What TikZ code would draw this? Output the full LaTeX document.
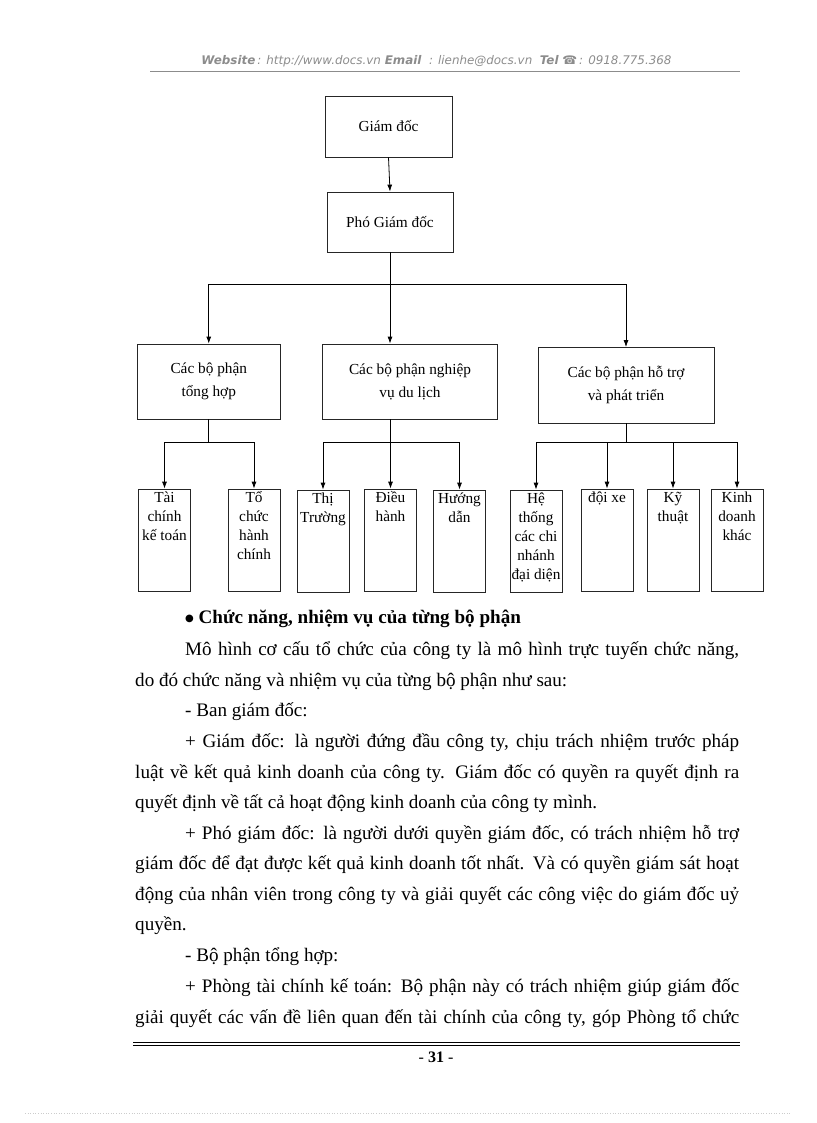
\documentclass[tikz,border=0pt]{standalone}
\usepackage{fontspec}
\setmainfont{Liberation Serif}
\newfontfamily\hdrfont{DejaVu Sans}
\newfontfamily\symfont{DejaVu Sans}
\usetikzlibrary{arrows.meta}
\tikzset{
  box/.style={draw=black!85, line width=0.8pt, inner sep=0pt, align=center,
    font=\fontsize{15.3}{19}\selectfont},
  catbox/.style={box, font=\fontsize{15.3}{23}\selectfont},
  leaf/.style={draw=black!85, line width=0.8pt, inner sep=0pt,
    font=\fontsize{15.3}{19}\selectfont},
  arr/.style={-{Latex[length=7pt,width=5pt]}, line width=0.8pt},
  ln/.style={line width=0.8pt},
  para/.style={anchor=base west, inner sep=0pt, font=\fontsize{19.1}{22}\selectfont},
}
\newcommand{\leaftext}[1]{\parbox[c][102pt][t]{52pt}{\centering\strut #1}}
\begin{document}
\begin{tikzpicture}[x=1pt,y=-1pt]
\useasboundingbox (0,0) rectangle (816,1123);
% header
\node[inner sep=0pt, text=black!45, font=\hdrfont\fontsize{11.9}{13}\selectfont\itshape] (hdr) at (436.5,61)
  {\textbf{Website}\,: http://www.docs.vn \textbf{Email} \ : lienhe@docs.vn \ \textbf{Tel} ☎\,: 0918.775.368};
\draw[black!45, line width=0.6pt] (150,71.5) -- (740,71.5);

% top boxes
\node[box, minimum width=127, minimum height=61] (gd) at (388.5,126.5) {Giám đốc};
\node[box, minimum width=126, minimum height=60] (pgd) at (390,222) {Phó Giám đốc};
% categories
\node[catbox, minimum width=142.5, minimum height=75] (c1) at (208.75,381.5) {Các bộ phận\\tổng hợp};
\node[catbox, minimum width=175, minimum height=75] (c2) at (410,381.5) {Các bộ phận nghiệp\\vụ du lịch};
\node[catbox, minimum width=176, minimum height=75.5] (c3) at (626,385.25) {Các bộ phận hỗ trợ\\và phát triển};
% leaves
\node[leaf] (d1) at (164.5,540) {\leaftext{Tài\\chính\\kế toán}};
\node[leaf] (d2) at (254,540) {\leaftext{Tổ\\chức\\hành\\chính}};
\node[leaf] (e1) at (323,541) {\leaftext{Thị\\Trường}};
\node[leaf] (e2) at (390.5,540) {\leaftext{Điều\\hành}};
\node[leaf] (e3) at (459.5,541) {\leaftext{Hướng\\dẫn}};
\node[leaf] (f1) at (536,541) {\leaftext{Hệ\\thống\\các chi\\nhánh\\đại diện}};
\node[leaf] (f2) at (607,540) {\leaftext{đội xe}};
\node[leaf] (f3) at (673,540) {\leaftext{Kỹ\\thuật}};
\node[leaf] (f4) at (737,540) {\leaftext{Kinh\\doanh\\khác}};

% connectors
\coordinate (busA) at (390,284);
\coordinate (busB) at (0,442);
\draw[arr] (gd.south) -- (pgd.north);
\draw[ln] (pgd.south) -- (pgd.south |- busA);
\draw[ln] (c1.north |- busA) -- (c3.north |- busA);
\draw[arr] (c1.north |- busA) -- (c1.north);
\draw[arr] (pgd.south |- busA) -- (pgd.south |- c2.north);
\draw[arr] (c3.north |- busA) -- (c3.north);

\draw[ln] (c1.south) -- (c1.south |- busB);
\draw[ln] (d1.north |- busB) -- (d2.north |- busB);
\draw[arr] (d1.north |- busB) -- (d1.north);
\draw[arr] (d2.north |- busB) -- (d2.north);

\draw[arr] (e2.north |- c2.south) -- (e2.north);
\draw[ln] (e1.north |- busB) -- (e3.north |- busB);
\draw[arr] (e1.north |- busB) -- (e1.north);
\draw[arr] (e3.north |- busB) -- (e3.north);

\draw[ln] (c3.south) -- (c3.south |- busB);
\draw[ln] (f1.north |- busB) -- (f4.north |- busB);
\draw[arr] (f1.north |- busB) -- (f1.north);
\draw[arr] (f2.north |- busB) -- (f2.north);
\draw[arr] (f3.north |- busB) -- (f3.north);
\draw[arr] (f4.north |- busB) -- (f4.north);

% body text
\node[para] (p1) at (185,623) {\raisebox{2pt}{\symfont\fontsize{10}{12}\selectfont ●} \textbf{Chức năng, nhiệm vụ của từng bộ phận}};
\node[para] (p2) at (185,655) {\makebox[554pt][s]{Mô hình cơ cấu tổ chức của công ty là mô hình trực tuyến chức năng,}};
\node[para] (p3) at (135,686) {do đó chức năng và nhiệm vụ của từng bộ phận như sau:};
\node[para] (p4) at (185,716) {- Ban giám đốc:};
\node[para] (p5) at (185,747) {\makebox[554pt][s]{+ Giám đốc: là người đứng đầu công ty, chịu trách nhiệm trước pháp}};
\node[para] (p6) at (135,778) {\makebox[604pt][s]{luật về kết quả kinh doanh của công ty. Giám đốc có quyền ra quyết định ra}};
\node[para] (p7) at (135,808) {quyết định về tất cả hoạt động kinh doanh của công ty mình.};
\node[para] (p8) at (185,839) {\makebox[554pt][s]{+ Phó giám đốc: là người dưới quyền giám đốc, có trách nhiệm hỗ trợ}};
\node[para] (p9) at (135,869) {\makebox[604pt][s]{giám đốc để đạt được kết quả kinh doanh tốt nhất. Và có quyền giám sát hoạt}};
\node[para] (p10) at (135,900) {\makebox[604pt][s]{động của nhân viên trong công ty và giải quyết các công việc do giám đốc uỷ}};
\node[para] (p11) at (135,930) {quyền.};
\node[para] (p12) at (185,961) {- Bộ phận tổng hợp:};
\node[para] (p13) at (185,992) {\makebox[554pt][s]{+ Phòng tài chính kế toán: Bộ phận này có trách nhiệm giúp giám đốc}};
\node[para] (p14) at (135,1023) {\makebox[604pt][s]{giải quyết các vấn đề liên quan đến tài chính của công ty, góp Phòng tổ chức}};

% footer
\draw[line width=0.9pt] (133,1042.5) -- (740,1042.5);
\draw[line width=0.9pt] (133,1045.5) -- (740,1045.5);
\node[inner sep=0pt, font=\fontsize{16}{18}\selectfont] (pg) at (436,1057) {- \textbf{31} -};
\draw[black!20, dotted, line width=0.6pt] (25,1113) -- (790,1113);
\end{tikzpicture}
\end{document}
